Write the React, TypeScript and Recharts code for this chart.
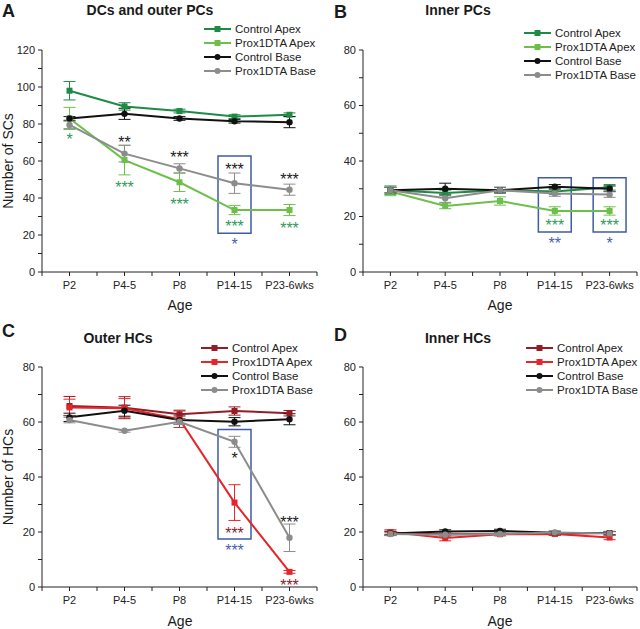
import React from 'react';
import { LineChart, Line, XAxis, YAxis, ErrorBar, ReferenceArea, ReferenceDot, Legend } from 'recharts';

const FONT = '"Liberation Sans", Arial, Helvetica, sans-serif';

const ages = ['P2', 'P4-5', 'P8', 'P14-15', 'P23-6wks'];
const seriesNames = ['Control Apex', 'Prox1DTA Apex', 'Control Base', 'Prox1DTA Base'];

// Panel A: DCs and outer PCs
const aControlApex = [98, 89.5, 87, 84, 85];
const aControlApexErr = [5, 2, 1, 1, 1];
const aProxApex = [83, 60.5, 48.5, 33.5, 33.5];
const aProxApexErr = [6, 8, 5, 2.5, 3];
const aControlBase = [83, 85.5, 83, 81.5, 81];
const aControlBaseErr = [1, 3, 1, 1, 3];
const aProxBase = [79.5, 64, 56, 48, 44.5];
const aProxBaseErr = [2, 4.5, 2.5, 5.5, 3];

// Panel B: Inner PCs
const bControlApex = [29.5, 28.5, 29.5, 29, 30.5];
const bControlApexErr = [1.5, 1, 1, 1, 1];
const bProxApex = [29, 23.8, 25.6, 22, 22];
const bProxApexErr = [1.5, 1, 1.5, 1.5, 1.5];
const bControlBase = [29.5, 30, 29.5, 30.7, 30];
const bControlBaseErr = [1, 2, 1, 0.8, 1];
const bProxBase = [29.5, 26.6, 29.5, 28.3, 27.9];
const bProxBaseErr = [1, 1.5, 1, 1, 1];

// Panel C: Outer HCs
const cControlApex = [65.8, 65.2, 62.8, 64, 63.2];
const cControlApexErr = [3.5, 4, 1.5, 1.5, 1];
const cProxApex = [65.3, 65, 61, 30.7, 5.5];
const cProxApexErr = [3, 3.5, 3, 6.5, 0.5];
const cControlBase = [61.7, 64.1, 60.7, 60.1, 61];
const cControlBaseErr = [1.5, 2, 1.5, 1.5, 2];
const cProxBase = [60.7, 56.8, 60.1, 52.8, 17.9];
const cProxBaseErr = [1, 0.5, 1, 2, 5];

// Panel D: Inner HCs
const dControlApex = [19.5, 19.2, 19.3, 19.4, 19.6];
const dControlApexErr = [0.8, 0.8, 0.6, 0.6, 0.6];
const dProxApex = [20, 17.8, 19.2, 19.3, 18];
const dProxApexErr = [0.8, 1, 0.6, 0.6, 0.8];
const dControlBase = [19.5, 20.2, 20.4, 19.7, 19.6];
const dControlBaseErr = [0.6, 0.6, 0.6, 0.6, 0.6];
const dProxBase = [19.3, 19.0, 19.3, 19.8, 19.5];
const dProxBaseErr = [0.6, 0.6, 0.6, 0.6, 0.6];

// significance marks
const GREEN_STAR = '#2f9a5a';
const BLUE = '#4a5fae';
const BLACK = '#1a1a1a';
const DARKRED_STAR = '#8b1a2e';

const aStars = [
  { x: 0, y: 73.5, text: '*', color: GREEN_STAR },
  { x: 1, y: 72, text: '**', color: BLACK },
  { x: 1, y: 47.5, text: '***', color: GREEN_STAR },
  { x: 2, y: 63.8, text: '***', color: BLACK },
  { x: 2, y: 38.4, text: '***', color: GREEN_STAR },
  { x: 3, y: 57.5, text: '***', color: BLACK },
  { x: 3, y: 26.5, text: '***', color: GREEN_STAR },
  { x: 3, y: 17, text: '*', color: BLUE },
  { x: 4, y: 52, text: '***', color: BLACK },
  { x: 4, y: 25.4, text: '***', color: GREEN_STAR },
];
const bStars = [
  { x: 3, y: 18, text: '***', color: GREEN_STAR },
  { x: 3, y: 11.5, text: '**', color: BLUE },
  { x: 4, y: 18, text: '***', color: GREEN_STAR },
  { x: 4, y: 11.5, text: '*', color: BLUE },
];
const cStars = [
  { x: 3, y: 48, text: '*', color: BLACK },
  { x: 3, y: 20.7, text: '***', color: DARKRED_STAR },
  { x: 3, y: 14.5, text: '***', color: BLUE },
  { x: 4, y: 24.7, text: '***', color: BLACK },
  { x: 4, y: 2, text: '***', color: DARKRED_STAR },
];
const dStars: any[] = [];

const aBoxes = [{ x1: 2.7, x2: 3.3, y1: 21, y2: 62.7 }];
const bBoxes = [
  { x1: 2.7, x2: 3.3, y1: 14.4, y2: 34 },
  { x1: 3.7, x2: 4.3, y1: 14.4, y2: 34 },
];
const cBoxes = [{ x1: 2.7, x2: 3.3, y1: 17.5, y2: 57.3 }];
const dBoxes: any[] = [];

const greenColors = ['#1f8a45', '#6cc04a', '#111111', '#8c8c8c'];
const redColors = ['#951c24', '#e3262b', '#111111', '#8c8c8c'];

const yTicks120 = [0, 10, 20, 30, 40, 50, 60, 70, 80, 90, 100, 110, 120];
const yTicks80 = [0, 10, 20, 30, 40, 50, 60, 70, 80];
const xTicks = [-0.5, 0, 0.5, 1, 1.5, 2, 2.5, 3, 3.5, 4, 4.5];

function makeRows(vals: number[][], errs: number[][]) {
  return ages.map((age, i) => {
    const row: any = { x: i, age };
    vals.forEach((v, k) => {
      row['s' + k] = v[i];
      row['e' + k] = errs[k][i];
    });
    return row;
  });
}

const aRows = makeRows([aControlApex, aProxApex, aControlBase, aProxBase], [aControlApexErr, aProxApexErr, aControlBaseErr, aProxBaseErr]);
const bRows = makeRows([bControlApex, bProxApex, bControlBase, bProxBase], [bControlApexErr, bProxApexErr, bControlBaseErr, bProxBaseErr]);
const cRows = makeRows([cControlApex, cProxApex, cControlBase, cProxBase], [cControlApexErr, cProxApexErr, cControlBaseErr, cProxBaseErr]);
const dRows = makeRows([dControlApex, dProxApex, dControlBase, dProxBase], [dControlApexErr, dProxApexErr, dControlBaseErr, dProxBaseErr]);

const squareDot = (color: string) => (p: any) => (
  <rect key={'sq' + p.index} x={p.cx - 3} y={p.cy - 3} width={6} height={6} fill={color} />
);
const circleDot = (color: string) => (p: any) => (
  <circle key={'ci' + p.index} cx={p.cx} cy={p.cy} r={3.2} fill={color} />
);

const renderLegend = (props: any) => {
  const payload = [...(props.payload || [])].sort(
    (a: any, b: any) => seriesNames.indexOf(String(a.value)) - seriesNames.indexOf(String(b.value))
  );
  return (
    <div style={{ fontFamily: FONT, fontSize: 11.5, color: '#222', lineHeight: '14px' }}>
      {payload.map((e: any, i: number) => {
        const isApex = String(e.value).indexOf('Apex') >= 0;
        return (
          <div key={i} style={{ display: 'flex', alignItems: 'center', height: 14, whiteSpace: 'nowrap' }}>
            <svg width={30} height={14} style={{ display: 'block' }}>
              <line x1={1} x2={28} y1={7} y2={7} stroke={e.color} strokeWidth={2} />
              {isApex ? (
                <rect x={11.5} y={4} width={6} height={6} fill={e.color} />
              ) : (
                <circle cx={14.5} cy={7} r={3} fill={e.color} />
              )}
            </svg>
            <span style={{ marginLeft: 2 }}>{e.value}</span>
          </div>
        );
      })}
    </div>
  );
};

type PanelProps = {
  rows: any[];
  colors: string[];
  yMax: number;
  yTicks: number[];
  stars: any[];
  boxes: any[];
  left: number;
  top: number;
  height: number;
  yAxisWidth: number;
  legendLeft: number;
  legendTop: number;
};

function Panel(p: PanelProps) {
  return (
    <div style={{ position: 'absolute', left: p.left, top: p.top, width: 320, height: p.height }}>
      <LineChart
        width={320}
        height={p.height}
        data={p.rows}
        margin={{ top: 50, right: 3, bottom: 12, left: 0 }}
      >
        <XAxis
          dataKey="x"
          type="number"
          domain={[-0.5, 4.5]}
          ticks={xTicks}
          interval={0}
          height={30}
          tickSize={4}
          tickMargin={5}
          axisLine={{ stroke: '#222', strokeWidth: 1 }}
          tickLine={{ stroke: '#222' }}
          tick={{ fontSize: 11, fill: '#222', fontFamily: FONT }}
          tickFormatter={(v: number) => (Number.isInteger(v) ? ages[v] : '')}
        />
        <YAxis
          type="number"
          domain={[0, p.yMax]}
          ticks={p.yTicks}
          interval={0}
          width={p.yAxisWidth}
          tickSize={4}
          tickMargin={3}
          axisLine={{ stroke: '#222', strokeWidth: 1 }}
          tickLine={{ stroke: '#222' }}
          tick={{ fontSize: 11, fill: '#222', fontFamily: FONT }}
          tickFormatter={(v: number) => (v % 20 === 0 ? String(v) : '')}
        />
        {p.boxes.map((b, i) => (
          <ReferenceArea
            key={'box' + i}
            x1={b.x1}
            x2={b.x2}
            y1={b.y1}
            y2={b.y2}
            fill="none"
            fillOpacity={0}
            stroke="#3f5ba9"
            strokeWidth={1.5}
            ifOverflow="visible"
          />
        ))}
        {seriesNames.map((name, k) => (
          <Line
            key={name}
            name={name}
            dataKey={'s' + k}
            stroke={p.colors[k]}
            strokeWidth={2}
            isAnimationActive={false}
            dot={name.indexOf('Apex') >= 0 ? squareDot(p.colors[k]) : circleDot(p.colors[k])}
            activeDot={false}
          >
            <ErrorBar dataKey={'e' + k} width={6} strokeWidth={1} stroke={p.colors[k]} direction="y" isAnimationActive={false} />
          </Line>
        ))}
        {p.stars.map((s, i) => (
          <ReferenceDot
            key={'st' + i}
            x={s.x}
            y={s.y}
            r={1}
            ifOverflow="visible"
            shape={(q: any) => (
              <text
                x={q.cx}
                y={q.cy + 9}
                textAnchor="middle"
                fontSize={16}
                fontFamily={FONT}
                fill={s.color}
              >
                {s.text}
              </text>
            )}
          />
        ))}
        <Legend
          layout="vertical"
          align="center"
          verticalAlign="middle"
          itemSorter={null as any}
          content={renderLegend}
          wrapperStyle={{ left: p.legendLeft, top: p.legendTop, width: 120, height: 60 }}
        />
      </LineChart>
    </div>
  );
}

export default function App() {
  const txt = { fontFamily: FONT, fill: '#1a1a1a' } as any;
  return (
    <div style={{ position: 'absolute', left: 0, top: 0, width: 640, height: 629, background: '#fff', overflow: 'hidden' }}>
      <Panel rows={aRows} colors={greenColors} yMax={120} yTicks={yTicks120} stars={aStars} boxes={aBoxes}
        left={0} top={0} height={314} yAxisWidth={42} legendLeft={203} legendTop={22} />
      <Panel rows={bRows} colors={greenColors} yMax={80} yTicks={yTicks80} stars={bStars} boxes={bBoxes}
        left={320} top={0} height={314} yAxisWidth={43} legendLeft={203} legendTop={26} />
      <Panel rows={cRows} colors={redColors} yMax={80} yTicks={yTicks80} stars={cStars} boxes={cBoxes}
        left={0} top={317} height={312} yAxisWidth={42} legendLeft={200} legendTop={24} />
      <Panel rows={dRows} colors={redColors} yMax={80} yTicks={yTicks80} stars={dStars} boxes={dBoxes}
        left={320} top={317} height={312} yAxisWidth={43} legendLeft={205} legendTop={24} />
      <svg width={640} height={629} style={{ position: 'absolute', left: 0, top: 0, pointerEvents: 'none' }}>
        <text x={2} y={17} fontSize={18} fontWeight="bold" {...txt}>A</text>
        <text x={334} y={18} fontSize={18} fontWeight="bold" {...txt}>B</text>
        <text x={2} y={337} fontSize={18} fontWeight="bold" {...txt}>C</text>
        <text x={334} y={341} fontSize={18} fontWeight="bold" {...txt}>D</text>
        <text x={150} y={15} fontSize={14} fontWeight="bold" textAnchor="middle" {...txt}>DCs and outer PCs</text>
        <text x={458} y={15} fontSize={14} fontWeight="bold" textAnchor="middle" {...txt}>Inner PCs</text>
        <text x={118} y={343} fontSize={14} fontWeight="bold" textAnchor="middle" {...txt}>Outer HCs</text>
        <text x={458} y={343} fontSize={14} fontWeight="bold" textAnchor="middle" {...txt}>Inner HCs</text>
        <text x={180} y={310} fontSize={14} textAnchor="middle" {...txt}>Age</text>
        <text x={500} y={310} fontSize={14} textAnchor="middle" {...txt}>Age</text>
        <text x={180} y={626} fontSize={14} textAnchor="middle" {...txt}>Age</text>
        <text x={500} y={626} fontSize={14} textAnchor="middle" {...txt}>Age</text>
        <text x={13} y={161} fontSize={14} textAnchor="middle" transform="rotate(-90 13 161)" {...txt}>Number of SCs</text>
        <text x={13} y={477} fontSize={14} textAnchor="middle" transform="rotate(-90 13 477)" {...txt}>Number of HCs</text>
      </svg>
    </div>
  );
}
